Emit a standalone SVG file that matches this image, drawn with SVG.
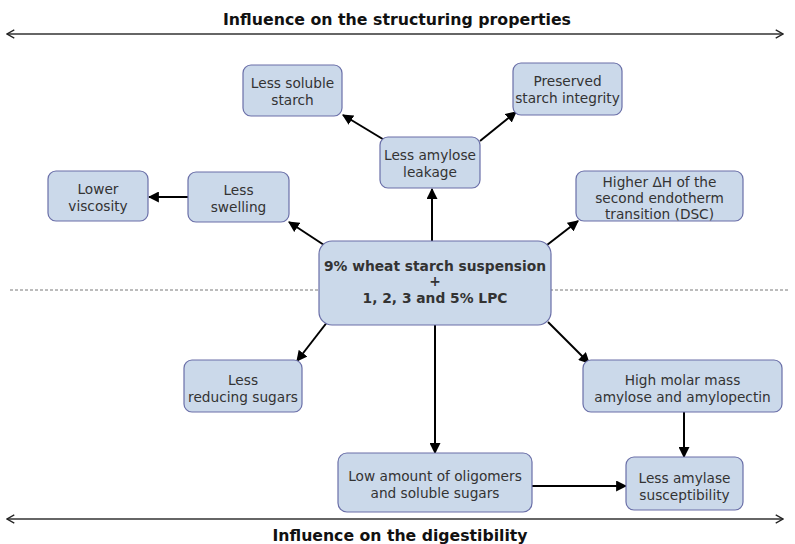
<svg xmlns="http://www.w3.org/2000/svg" width="795" height="544" viewBox="0 0 795 544">
<defs>
<style>
.box{fill:#cbd9ea;stroke:#6a6fa8;stroke-width:1.2}
.t{font-family:"DejaVu Sans",Verdana,sans-serif;font-size:13.7px;fill:#333;text-anchor:middle}
.tb{font-family:"DejaVu Sans",Verdana,sans-serif;font-size:13.8px;font-weight:bold;fill:#333;text-anchor:middle}
.c{stroke:#000;stroke-width:2;fill:none;marker-end:url(#ah)}
.h{font-family:"DejaVu Sans",Verdana,sans-serif;font-size:15.5px;font-weight:bold;fill:#111;text-anchor:middle}
</style>
<marker id="ah" viewBox="0 0 10 10" refX="9" refY="5" markerWidth="5.5" markerHeight="5.5" orient="auto"><path d="M0,0 L10,5 L0,10 z" fill="#000"/></marker>
<marker id="oa" viewBox="0 0 10 10" refX="9" refY="5" markerWidth="8" markerHeight="8" orient="auto-start-reverse"><path d="M2,1 L9,5 L2,9" fill="none" stroke="#222" stroke-width="1.2"/></marker>
</defs>
<rect width="795" height="544" fill="#fff"/>
<g id="frame">
<text class="h" x="397" y="25" textLength="348" lengthAdjust="spacingAndGlyphs">Influence on the structuring properties</text>
<line x1="7" y1="34" x2="783" y2="34" stroke="#333" stroke-width="1.3" marker-start="url(#oa)" marker-end="url(#oa)"/>
<line x1="10" y1="290" x2="790" y2="290" stroke="#555" stroke-width="0.8" stroke-dasharray="3,2"/>
<line x1="7" y1="519" x2="783" y2="519" stroke="#333" stroke-width="1.3" marker-start="url(#oa)" marker-end="url(#oa)"/>
<text class="h" x="400" y="541" textLength="255" lengthAdjust="spacingAndGlyphs">Influence on the digestibility</text>
</g>
<g id="connectors">
<line class="c" x1="324" y1="245" x2="289" y2="222"/>
<line class="c" x1="188" y1="197" x2="149" y2="197"/>
<line class="c" x1="432" y1="241" x2="432" y2="189"/>
<line class="c" x1="386" y1="141" x2="343" y2="115"/>
<line class="c" x1="480" y1="141" x2="516" y2="112"/>
<line class="c" x1="547" y1="245" x2="578" y2="221"/>
<line class="c" x1="328" y1="321" x2="297" y2="361"/>
<line class="c" x1="435" y1="325" x2="435" y2="453"/>
<line class="c" x1="548" y1="322" x2="589" y2="363"/>
<line class="c" x1="684" y1="412" x2="684" y2="457"/>
<line class="c" x1="532" y1="486" x2="626" y2="486"/>
</g>
<g id="n-soluble"><rect class="box" x="243" y="65" width="99" height="51" rx="8"/><text class="t" x="292.5" y="88">Less soluble</text><text class="t" x="292.5" y="105">starch</text></g>
<g id="n-preserved"><rect class="box" x="513" y="63" width="109" height="52" rx="8"/><text class="t" x="567.5" y="86">Preserved</text><text class="t" x="567.5" y="103">starch integrity</text></g>
<g id="n-leakage"><rect class="box" x="380" y="137" width="100" height="51" rx="8"/><text class="t" x="430" y="160">Less amylose</text><text class="t" x="430" y="177">leakage</text></g>
<g id="n-viscosity"><rect class="box" x="48" y="171" width="100" height="50" rx="8"/><text class="t" x="98" y="194">Lower</text><text class="t" x="98" y="211">viscosity</text></g>
<g id="n-swelling"><rect class="box" x="188" y="172" width="101" height="50" rx="8"/><text class="t" x="238.5" y="195">Less</text><text class="t" x="238.5" y="212">swelling</text></g>
<g id="n-dh"><rect class="box" x="576" y="171" width="167" height="50" rx="8"/><text class="t" x="659.5" y="187">Higher ΔH of the</text><text class="t" x="659.5" y="203">second endotherm</text><text class="t" x="659.5" y="219">transition (DSC)</text></g>
<g id="n-center"><rect class="box" x="319" y="241" width="232" height="84" rx="13"/><text class="tb" x="435" y="271">9% wheat starch suspension</text><text class="tb" x="435" y="286">+</text><text class="tb" x="435" y="303">1, 2, 3 and 5% LPC</text></g>
<g id="n-reducing"><rect class="box" x="184" y="360" width="118" height="52" rx="8"/><text class="t" x="243" y="385">Less</text><text class="t" x="243" y="402">reducing sugars</text></g>
<g id="n-molar"><rect class="box" x="583" y="360" width="199" height="52" rx="8"/><text class="t" x="682.5" y="385">High molar mass</text><text class="t" x="682.5" y="402">amylose and amylopectin</text></g>
<g id="n-oligomers"><rect class="box" x="338" y="453" width="194" height="59" rx="9"/><text class="t" x="435" y="481">Low amount of oligomers</text><text class="t" x="435" y="498">and soluble sugars</text></g>
<g id="n-amylase"><rect class="box" x="626" y="457" width="117" height="53" rx="8"/><text class="t" x="684.5" y="483">Less amylase</text><text class="t" x="684.5" y="500">susceptibility</text></g>
</svg>
